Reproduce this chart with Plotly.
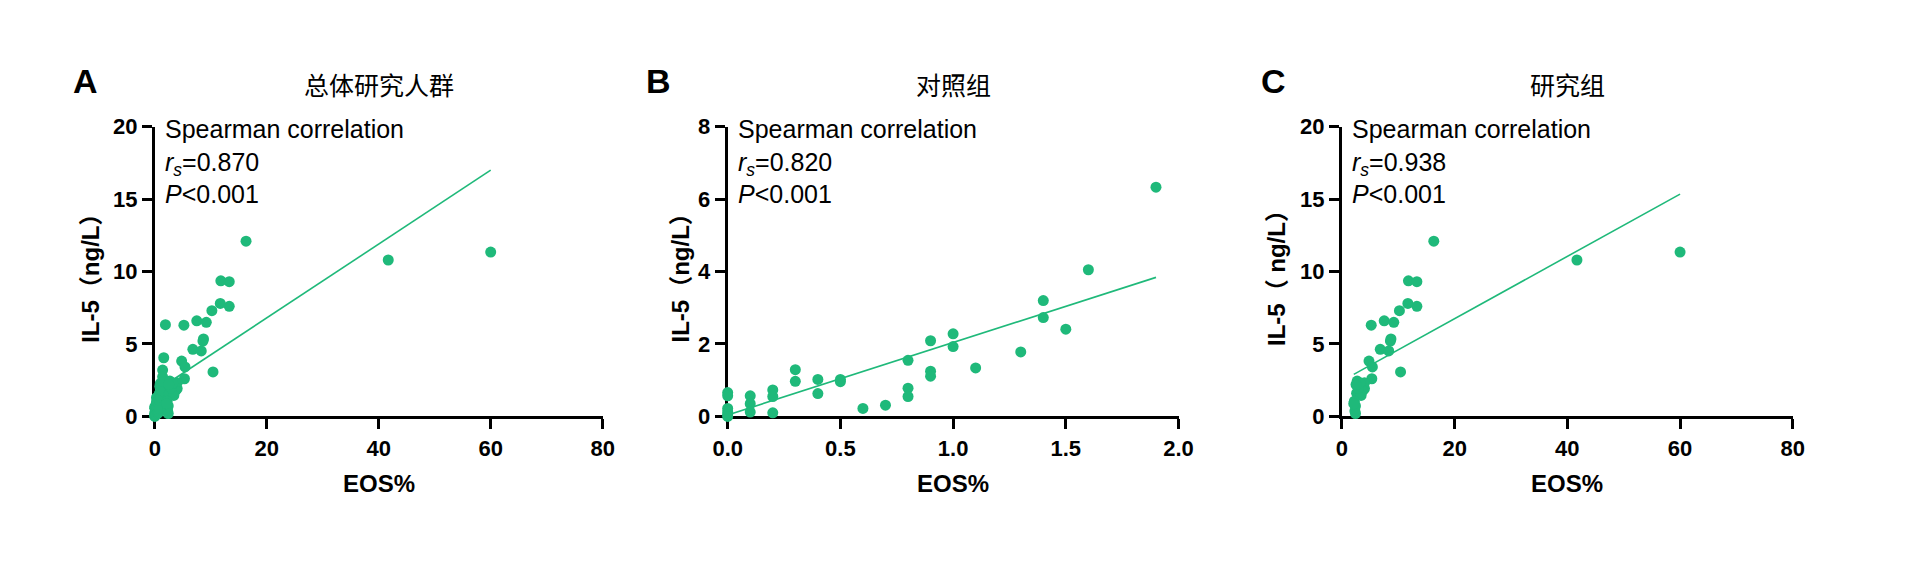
import plotly.graph_objects as go

# ---------------- data ----------------
# Control group (B)
b_x = [0.0, 0.0, 0.0, 0.0, 0.0, 0.0, 0.1, 0.1, 0.1, 0.2, 0.2, 0.2, 0.3, 0.3, 0.4, 0.4,
       0.5, 0.5, 0.6, 0.7, 0.8, 0.8, 0.8, 0.9, 0.9, 0.9, 1.0, 1.0, 1.1, 1.3, 1.4, 1.4,
       1.5, 1.6, 1.9]
b_y = [0.66, 0.57, 0.22, 0.12, 0.05, 0.0, 0.57, 0.35, 0.12, 0.73, 0.55, 0.10, 1.29, 0.97,
       1.02, 0.63, 1.02, 0.96, 0.22, 0.31, 1.55, 0.78, 0.55, 2.09, 1.25, 1.11, 2.28, 1.93,
       1.34, 1.78, 3.20, 2.73, 2.41, 4.05, 6.33]

# Study group (C)
c_x = [16.3, 41.7, 60.0, 11.8, 13.3, 11.7, 13.3, 10.2, 5.2, 7.5, 9.2, 8.7, 8.6, 6.8, 8.3,
       4.8, 5.4, 10.4, 5.3, 2.7, 4.0, 3.0, 4.0, 3.7, 2.6, 3.4, 2.2, 2.4, 2.3, 2.4, 2.9,
       2.1, 3.2, 2.5]
c_y = [12.1, 10.8, 11.35, 9.36, 9.3, 7.8, 7.6, 7.3, 6.3, 6.6, 6.5, 5.35, 5.2, 4.63, 4.52,
       3.82, 3.42, 3.07, 2.6, 2.44, 2.33, 2.15, 1.92, 1.78, 1.6, 1.45, 1.05, 0.72, 0.38,
       0.2, 1.96, 0.88, 2.3, 2.2]

# Whole study population (A) = control + study group
a_x = b_x + c_x
a_y = b_y + c_y

# fitted lines: slope, intercept, x-start, x-end
fit_a = [0.255, 1.70, 0.0, 60.0]
fit_b = [2.00, 0.04, 0.0, 1.9]
fit_c = [0.215, 2.45, 2.1, 60.0]

titles = ["总体研究人群", "对照组", "研究组"]
letters = ["A", "B", "C"]
rs_values = ["0.870", "0.820", "0.938"]
x_label = "EOS%"
y_labels = ["IL-5（ng/L）", "IL-5（ng/L）", "IL-5（ ng/L）"]

# ---------------- style ----------------
W, H = 1920, 569
GREEN = "#1fb97a"
LATIN = "Liberation Sans, Arial, Noto Sans CJK SC"
CJK = "Noto Sans CJK SC"

# pixel geometry of the three panels (left, right) and vertical extent
panels_px = [(142, 597), (724, 1182), (1348, 1806)]
top_px, bottom_px = 120, 423
ylabel_x_px = [76, 676, 1281]

def px_x(v):
    return v / W

def px_y(v):
    return 1 - v / H

fig = go.Figure()

datasets = [(a_x, a_y, fit_a), (b_x, b_y, fit_b), (c_x, c_y, fit_c)]
ranges = [([0, 80], [0, 20], 20, 5, None), ([0, 2], [0, 8], 0.5, 2, ".1f"),
          ([0, 80], [0, 20], 20, 5, None)]

for i, ((xs, ys, fit), (xr, yr, dx, dy, fmt)) in enumerate(zip(datasets, ranges)):
    n = "" if i == 0 else str(i + 1)
    slope, icpt, x0, x1 = fit
    fig.add_trace(go.Scatter(
        x=[x0, x1], y=[icpt + slope * x0, icpt + slope * x1],
        mode="lines", line=dict(color=GREEN, width=1.6),
        xaxis="x" + n, yaxis="y" + n, showlegend=False, hoverinfo="skip"))
    fig.add_trace(go.Scatter(
        x=xs, y=ys, mode="markers",
        marker=dict(color=GREEN, size=11, line=dict(width=0)),
        xaxis="x" + n, yaxis="y" + n, showlegend=False, cliponaxis=False))

    l, r = panels_px[i]
    axis_common = dict(showgrid=False, zeroline=False, showline=True, linecolor="black",
                       linewidth=3, ticks="outside", ticklen=10, tickwidth=3,
                       tickcolor="black", layer="below traces",
                       tickfont=dict(family=LATIN, size=22, color="black", weight="bold"))
    fig.update_layout(**{
        "xaxis" + n: dict(domain=[px_x(l), px_x(r)], range=xr, dtick=dx, tick0=0,
                          tickformat=fmt, anchor="y" + n, **axis_common),
        "yaxis" + n: dict(domain=[px_y(bottom_px), px_y(top_px)], range=yr, dtick=dy,
                          tick0=0, anchor="x" + n, **axis_common),
    })

    cx = (l + r) / 2
    # panel letter
    fig.add_annotation(xref="paper", yref="paper", x=px_x(l - 70), y=px_y(72),
                       text=letters[i], showarrow=False, xanchor="center", yanchor="middle",
                       font=dict(family=LATIN, size=34, color="black", weight="bold"))
    # title
    fig.add_annotation(xref="paper", yref="paper", x=px_x(cx), y=px_y(75),
                       text=titles[i], showarrow=False, xanchor="center", yanchor="middle",
                       font=dict(family=CJK, size=25, color="black"))
    # x label
    fig.add_annotation(xref="paper", yref="paper", x=px_x(cx), y=px_y(493),
                       text=x_label, showarrow=False, xanchor="center", yanchor="middle",
                       font=dict(family=LATIN, size=24, color="black", weight="bold"))
    # y label
    fig.add_annotation(xref="paper", yref="paper", x=px_x(ylabel_x_px[i]), y=px_y(272),
                       text=y_labels[i], showarrow=False, xanchor="center", yanchor="middle",
                       textangle=-90,
                       font=dict(family=LATIN, size=24, color="black", weight="bold"))
    # statistics text
    fig.add_annotation(xref="paper", yref="paper", x=px_x(l + 8), y=px_y(106),
                       text=("Spearman correlation<br><i>r<sub>s</sub></i>=" + rs_values[i]
                             + "<br><i>P</i>&lt;0.001"),
                       showarrow=False, xanchor="left", yanchor="top", align="left",
                       font=dict(family=LATIN, size=25, color="black"))

fig.update_layout(width=W, height=H, margin=dict(l=0, r=0, t=0, b=0),
                  plot_bgcolor="white", paper_bgcolor="white")

fig.write_html("out.html")
